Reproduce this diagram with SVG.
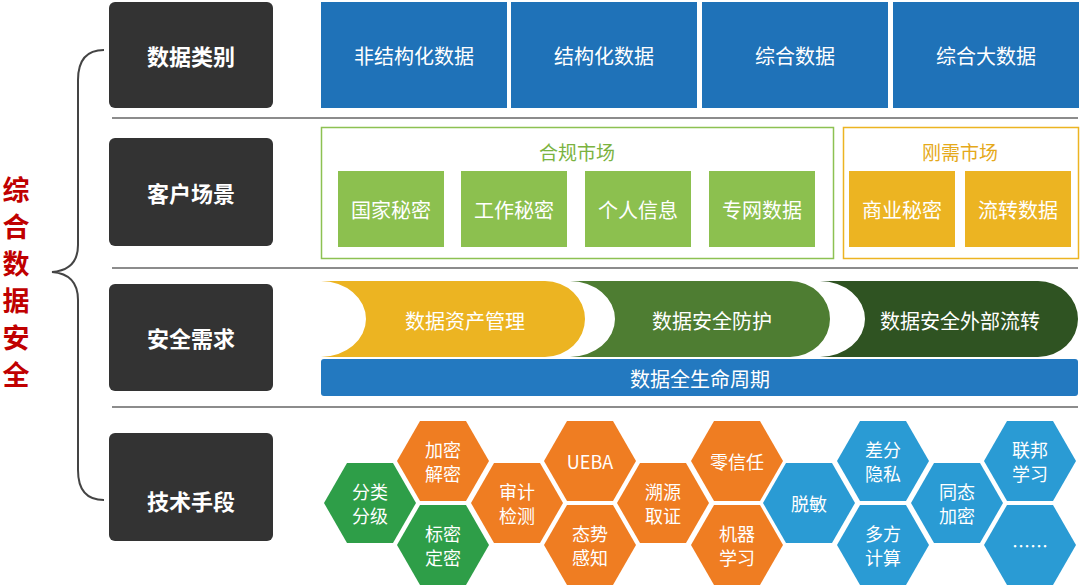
<svg xmlns="http://www.w3.org/2000/svg" width="1080" height="587" viewBox="0 0 1080 587">
<defs>
<style>
text{font-family:"Noto Sans CJK SC","Noto Sans",sans-serif;text-anchor:middle;dominant-baseline:central}
.cat rect{fill:#333333}
.cat text{fill:#fff;font-size:22px;font-weight:bold}
.blue rect{fill:#1f72b8}
.w{fill:#fff;font-size:20px}
.gb{fill:#8cc04f}
.yb{fill:#ecb422}
.hex text{fill:#fff;font-size:18px}
.sep{stroke:#666;stroke-width:1.5}
</style>
<polygon id="hx" points="-46,0 -23,-40 23,-40 46,0 23,40 -23,40"/>
</defs>
<rect width="1080" height="587" fill="#fff"/>
<g id="title"><text x="16" y="275" fill="#c00000" font-size="27" font-weight="bold"><tspan x="16" y="188">综</tspan><tspan x="16" y="225">合</tspan><tspan x="16" y="262">数</tspan><tspan x="16" y="299">据</tspan><tspan x="16" y="336">安</tspan><tspan x="16" y="373">全</tspan></text></g>
<g id="connectors" fill="none" stroke="#444" stroke-width="2">
<path d="M104,50 Q78,50 78,80 V245 Q78,270 52,272 Q78,274 78,300 V470 Q78,500 104,500"/>
<line class="sep" x1="112" y1="118" x2="1078" y2="118"/>
<line class="sep" x1="112" y1="268" x2="1078" y2="268"/>
<line class="sep" x1="112" y1="407" x2="1078" y2="407"/>
</g>
<g id="cat1" class="cat"><rect x="109" y="2" width="164" height="106" rx="6"/><text x="191" y="55">数据类别</text></g>
<g id="cat2" class="cat"><rect x="109" y="138" width="164" height="108" rx="6"/><text x="191" y="192">客户场景</text></g>
<g id="cat3" class="cat"><rect x="109" y="284" width="164" height="107" rx="6"/><text x="191" y="337">安全需求</text></g>
<g id="cat4" class="cat"><rect x="109" y="433" width="164" height="108" rx="6"/><text x="191" y="500">技术手段</text></g>
<g id="d1" class="blue"><rect x="321" y="2" width="186" height="106"/><text class="w" x="414" y="55">非结构化数据</text></g>
<g id="d2" class="blue"><rect x="511" y="2" width="186" height="106"/><text class="w" x="604" y="55">结构化数据</text></g>
<g id="d3" class="blue"><rect x="702" y="2" width="186" height="106"/><text class="w" x="795" y="55">综合数据</text></g>
<g id="d4" class="blue"><rect x="893" y="2" width="186" height="106"/><text class="w" x="986" y="55">综合大数据</text></g>
<g id="comp"><rect x="321.5" y="127.5" width="512" height="131" fill="none" stroke="#8dc152" stroke-width="1.5"/><text x="577" y="151" fill="#7bb33f" font-size="19">合规市场</text></g>
<g id="c1"><rect class="gb" x="338" y="171" width="106" height="76"/><text class="w" x="391" y="209" font-size="17">国家秘密</text></g>
<g id="c2"><rect class="gb" x="461" y="171" width="106" height="76"/><text class="w" x="514" y="209" font-size="17">工作秘密</text></g>
<g id="c3"><rect class="gb" x="585" y="171" width="106" height="76"/><text class="w" x="638" y="209" font-size="17">个人信息</text></g>
<g id="c4"><rect class="gb" x="709" y="171" width="106" height="76"/><text class="w" x="762" y="209" font-size="17">专网数据</text></g>
<g id="rigid"><rect x="843.5" y="127.5" width="235" height="131" fill="none" stroke="#ecb422" stroke-width="1.5"/><text x="960" y="151" fill="#e5a91a" font-size="19">刚需市场</text></g>
<g id="r1"><rect class="yb" x="849" y="171" width="106" height="76"/><text class="w" x="902" y="209" font-size="17">商业秘密</text></g>
<g id="r2"><rect class="yb" x="965" y="171" width="106" height="76"/><text class="w" x="1018" y="209" font-size="17">流转数据</text></g>
<g id="s1"><path d="M321,281 H545 A40,38 0 0 1 545,357 H321 A45,38 0 0 0 321,281Z" fill="#ecb422"/><text class="w" x="465" y="320">数据资产管理</text></g>
<g id="s2"><path d="M570,281 H790 A40,38 0 0 1 790,357 H570 A45,38 0 0 0 570,281Z" fill="#4e7d32"/><text class="w" x="712" y="320">数据安全防护</text></g>
<g id="s3"><path d="M820,281 H1038 A40,38 0 0 1 1038,357 H820 A45,38 0 0 0 820,281Z" fill="#2f5322"/><text class="w" x="960" y="320">数据安全外部流转</text></g>
<g id="life"><rect x="321" y="359" width="757" height="37" rx="3" fill="#2379c0"/><text class="w" x="700" y="378">数据全生命周期</text></g>
<g class="hex">
<g id="h1" transform="translate(370,503)"><use href="#hx" fill="#2e9e48"/><text y="-12">分类</text><text y="12">分级</text></g>
<g id="h2" transform="translate(443,461)"><use href="#hx" fill="#ef7d22"/><text y="-12">加密</text><text y="12">解密</text></g>
<g id="h3" transform="translate(443,545)"><use href="#hx" fill="#2e9e48"/><text y="-12">标密</text><text y="12">定密</text></g>
<g id="h4" transform="translate(517,503)"><use href="#hx" fill="#ef7d22"/><text y="-12">审计</text><text y="12">检测</text></g>
<g id="h5" transform="translate(590,461)"><use href="#hx" fill="#ef7d22"/><text y="0">UEBA</text></g>
<g id="h6" transform="translate(590,545)"><use href="#hx" fill="#ef7d22"/><text y="-12">态势</text><text y="12">感知</text></g>
<g id="h7" transform="translate(663,503)"><use href="#hx" fill="#ef7d22"/><text y="-12">溯源</text><text y="12">取证</text></g>
<g id="h8" transform="translate(737,461)"><use href="#hx" fill="#ef7d22"/><text y="0">零信任</text></g>
<g id="h9" transform="translate(737,545)"><use href="#hx" fill="#ef7d22"/><text y="-12">机器</text><text y="12">学习</text></g>
<g id="h10" transform="translate(809,503)"><use href="#hx" fill="#2a9bd4"/><text y="0">脱敏</text></g>
<g id="h11" transform="translate(883,461)"><use href="#hx" fill="#2a9bd4"/><text y="-12">差分</text><text y="12">隐私</text></g>
<g id="h12" transform="translate(883,545)"><use href="#hx" fill="#2a9bd4"/><text y="-12">多方</text><text y="12">计算</text></g>
<g id="h13" transform="translate(957,503)"><use href="#hx" fill="#2a9bd4"/><text y="-12">同态</text><text y="12">加密</text></g>
<g id="h14" transform="translate(1030,461)"><use href="#hx" fill="#2a9bd4"/><text y="-12">联邦</text><text y="12">学习</text></g>
<g id="h15" transform="translate(1030,545)"><use href="#hx" fill="#2a9bd4"/><text y="0">……</text></g>
</g>
</svg>
